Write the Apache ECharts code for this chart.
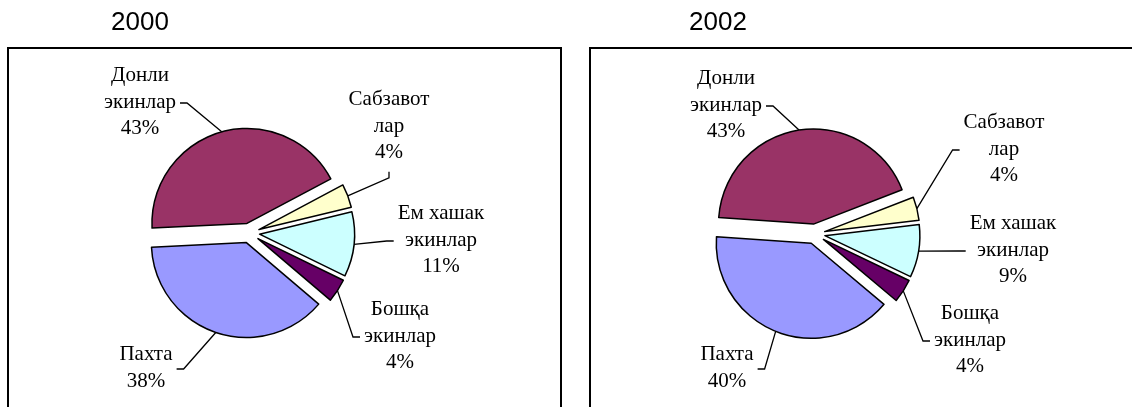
<!DOCTYPE html>
<html>
<head>
<meta charset="utf-8">
<script src="https://cdn.jsdelivr.net/npm/echarts@6/dist/echarts.min.js"></script>
<style>
html,body{margin:0;padding:0;background:#fff;}
#c{width:1132px;height:407px;}
</style>
</head>
<body>
<div id="c"></div>
<script>
// ---- data ----
const categories = ['Донли\nэкинлар', 'Сабзавот\nлар', 'Ем хашак\nэкинлар', 'Бошқа\nэкинлар', 'Пахта'];
const years = ['2000', '2002'];
const values2000 = [43, 4, 11, 4, 38];
const values2002 = [43, 4, 9, 4, 40];

// ---- styles / layout ----
const sliceColors = ['#993366', '#FFFFCC', '#CCFFFF', '#660066', '#9999FF'];
const RADIUS = 95;
const OFFSET = 10;
const PIES = [
  { center: [249.6, 233.1], startAngle: 182.8, titleX: 140,
    labels: [[140, 102], [389, 126], [441, 240], [400, 336], [146, 368]] },
  { center: [815, 234], startAngle: 176, titleX: 718,
    labels: [[726, 105], [1004, 149], [1013, 250], [970, 340], [727, 368]] }
];
const allValues = [values2000, values2002];

const chart = echarts.init(document.getElementById('c'), null, { renderer: 'canvas' });

function makeLayout(k) {
  return function (params) {
    const pos = PIES[k].labels[params.dataIndex];
    const data = chart.getModel().getSeriesByIndex(params.seriesIndex).getData();
    const L = data.getItemLayout(params.dataIndex);
    const mid = (L.startAngle + L.endAngle) / 2;
    const R = L.r + OFFSET;
    const ax = L.cx + Math.cos(mid) * R;
    const ay = L.cy + Math.sin(mid) * R;
    const w = params.labelRect.width, h = params.labelRect.height;
    const dx = ax - pos[0], dy = ay - pos[1];
    let p1, p2;
    if (Math.abs(dx) > w / 2 + 4) {
      const s = dx > 0 ? 1 : -1;
      p2 = [pos[0] + s * (w / 2 + 4), pos[1] + 1];
      p1 = [p2[0] + s * 7, p2[1]];
    } else {
      const s = dy > 0 ? 1 : -1;
      p2 = [pos[0], pos[1] + s * (h / 2 + 6)];
      p1 = [p2[0], p2[1] + s * 6];
    }
    return {
      x: pos[0], y: pos[1], align: 'center', verticalAlign: 'middle',
      labelLinePoints: [[ax, ay], p1, p2]
    };
  };
}

const series = [];
PIES.forEach(function (p, k) {
  // exploded slices
  series.push({
    type: 'pie',
    center: p.center,
    radius: RADIUS,
    startAngle: p.startAngle,
    clockwise: true,
    selectedMode: 'multiple',
    selectedOffset: OFFSET,
    animation: false,
    silent: true,
    emphasis: { disabled: true },
    itemStyle: { borderColor: '#000', borderWidth: 1.5 },
    select: { itemStyle: { borderColor: '#000', borderWidth: 1.5 } },
    label: { show: false },
    labelLine: { show: false },
    data: categories.map(function (name, i) {
      return { name: name, value: allValues[k][i], selected: true,
               itemStyle: { color: sliceColors[i] } };
    })
  });
  // labels with leader lines (same data, invisible sectors)
  series.push({
    type: 'pie',
    center: p.center,
    radius: RADIUS,
    startAngle: p.startAngle,
    clockwise: true,
    selectedMode: false,
    animation: false,
    silent: true,
    z: 1,
    avoidLabelOverlap: false,
    emphasis: { disabled: true },
    itemStyle: { color: 'rgba(0,0,0,0)', borderWidth: 0 },
    label: {
      show: true,
      position: 'outside',
      fontFamily: '"Liberation Serif", "DejaVu Serif", serif',
      fontSize: 21,
      lineHeight: 26.5,
      color: '#000',
      formatter: function (prm) { return prm.name + '\n' + Math.round(prm.percent) + '%'; }
    },
    labelLine: { show: true, lineStyle: { color: '#000', width: 1.3 } },
    labelLayout: makeLayout(k),
    data: categories.map(function (name, i) {
      return { name: name, value: allValues[k][i] };
    })
  });
});

const graphics = [];
graphics.push({ type: 'rect', shape: { x: 8, y: 48, width: 553, height: 400 },
  style: { fill: 'none', stroke: '#000', lineWidth: 2 }, z: -1 });
graphics.push({ type: 'rect', shape: { x: 590, y: 48, width: 600, height: 400 },
  style: { fill: 'none', stroke: '#000', lineWidth: 2 }, z: -1 });
PIES.forEach(function (p, k) {
  graphics.push({ type: 'text', x: p.titleX, y: 23,
    style: { text: years[k], textAlign: 'center', textVerticalAlign: 'middle',
      font: '26px "Liberation Sans", Arial, sans-serif', fill: '#000' } });
});

chart.setOption({
  animation: false,
  backgroundColor: '#fff',
  graphic: graphics,
  series: series
});
</script>
</body>
</html>
